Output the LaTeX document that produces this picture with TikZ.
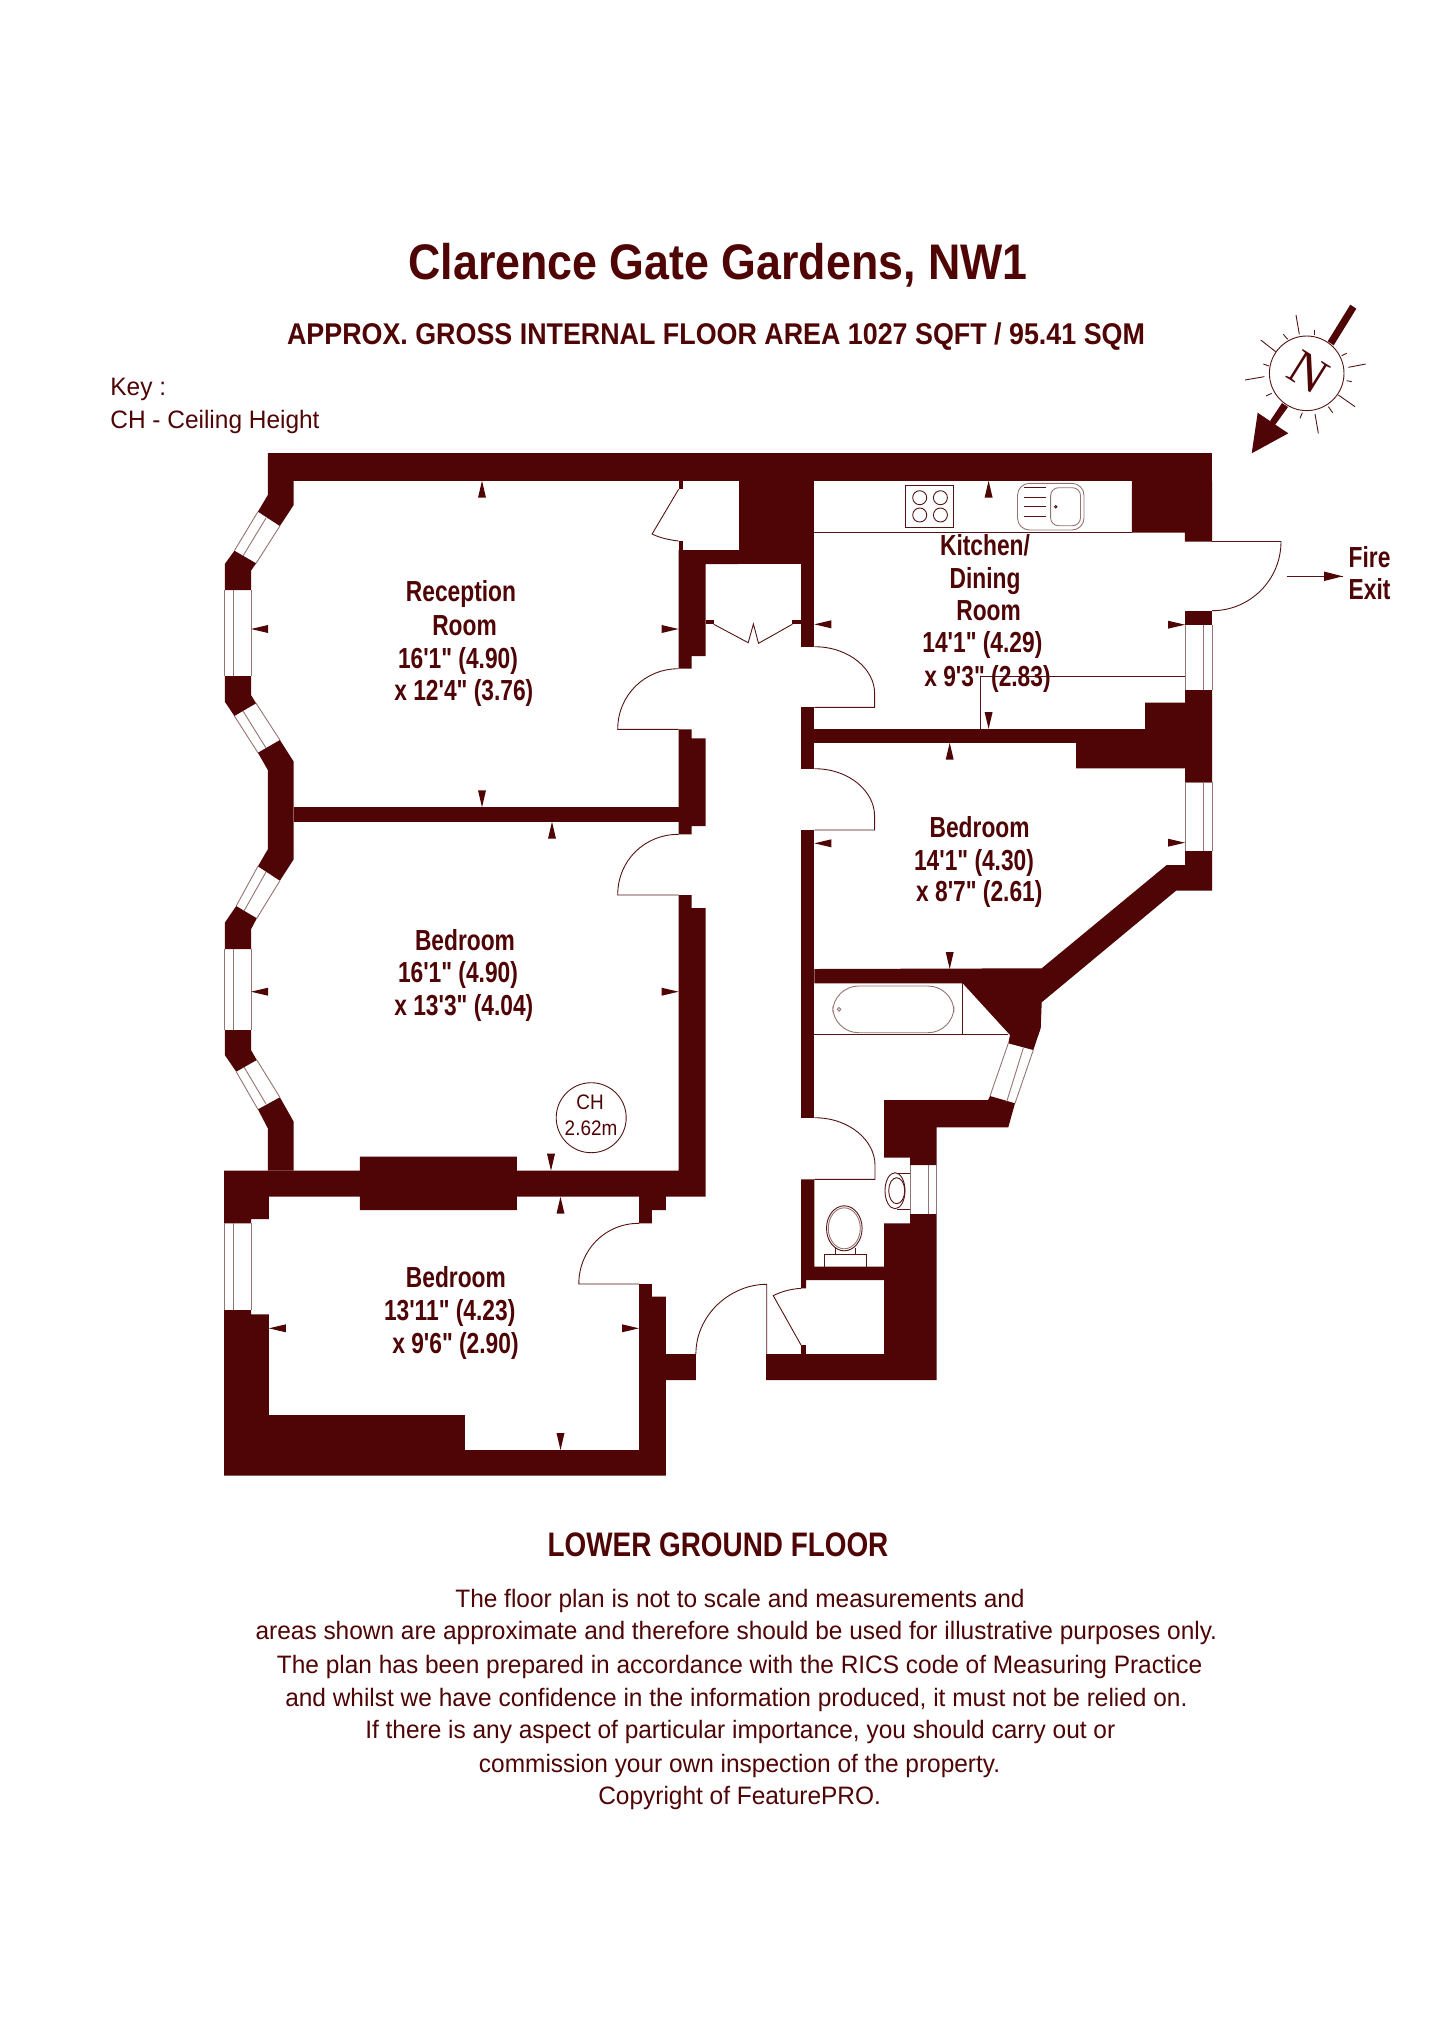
\documentclass[tikz,border=0pt]{standalone}
\usepackage{fontspec}
\newfontfamily\lblfont[FakeStretch=0.785]{Liberation Sans Bold}
\newfontfamily\titlefont[FakeStretch=0.895]{Liberation Sans Bold}
\newfontfamily\floorfont[FakeStretch=0.82]{Liberation Sans Bold}
\newfontfamily\regfont[FakeStretch=0.97]{Liberation Sans}
\newfontfamily\chfont[FakeStretch=0.9]{Liberation Sans}
\newfontfamily\nfont{Liberation Serif}
\definecolor{wallc}{RGB}{79,5,5}
\definecolor{linec}{RGB}{85,20,20}
\definecolor{lightc}{RGB}{150,115,115}
\tikzset{
  wall/.style={fill=wallc,draw=none},
  thinl/.style={draw=linec,line width=0.45pt},
  lightl/.style={draw=lightc,line width=0.45pt},
  roomtext/.style={text=wallc,inner sep=0pt,anchor=base,font=\lblfont\fontsize{14.5}{16}\selectfont},
  smalltext/.style={text=wallc,inner sep=0pt,anchor=base,font=\regfont\fontsize{12.6}{15}\selectfont},
}
\newcommand{\rl}[4]{\node[roomtext] (#1) at (#2,{#3+10}) {#4};}
\newcommand{\sml}[4]{\node[smalltext] (#1) at ({#2-2},{#3+2.5}) {#4};}
% arrows: tip x, tip y
\newcommand{\aup}[2]{\fill[wall] (#1,#2) -- ({#1-4},{#2+17}) -- ({#1+4},{#2+17}) -- cycle;}
\newcommand{\adn}[2]{\fill[wall] (#1,#2) -- ({#1-4},{#2-17}) -- ({#1+4},{#2-17}) -- cycle;}
\newcommand{\alf}[2]{\fill[wall] (#1,#2) -- ({#1+17},{#2-4}) -- ({#1+17},{#2+4}) -- cycle;}
\newcommand{\art}[2]{\fill[wall] (#1,#2) -- ({#1-17},{#2-4}) -- ({#1-17},{#2+4}) -- cycle;}
\begin{document}
\begin{tikzpicture}[x=0.5pt,y=-0.5pt]
\useasboundingbox (0,0) rectangle (1443,2025);
\fill[white] (0,0) rectangle (1443,2025);
% ---------- headings
\node[text=wallc,inner sep=0pt,font=\titlefont\fontsize{25}{28}\selectfont,anchor=base] (title) at (718,279.7) {Clarence Gate Gardens, NW1};
\node[text=wallc,inner sep=0pt,font=\titlefont\fontsize{15}{18}\selectfont,anchor=base] (sub) at (716,344.7) {APPROX. GROSS INTERNAL FLOOR AREA 1027 SQFT / 95.41 SQM};
\node[smalltext,anchor=base west] (key1) at (110,395.5) {Key :};
\node[smalltext,anchor=base west] (key2) at (110,428.5) {CH - Ceiling Height};
% ---------- walls: top and left
\fill[wall] (267.8,453.3) rectangle (1212,480.7);
\fill[wall] (267.8,453.3) -- (267.8,495) -- (257.9,511.7) -- (279.9,526) -- (293.7,505) -- (293.7,453.3) -- cycle;
\fill[wall] (234.4,550.7) -- (224.8,564) -- (224.8,590) -- (251,590) -- (251,570.7) -- (256.1,563.3) -- cycle;
\fill[wall] (224.8,676) -- (224.8,701.7) -- (234.4,716) -- (256.1,703.3) -- (251,695) -- (251,676) -- cycle;
\fill[wall] (257.9,752.7) -- (267.8,770) -- (267.8,849.3) -- (257.9,866.3) -- (279.9,880.7) -- (293.7,859.3) -- (293.7,761.7) -- (279.9,740) -- cycle;
\fill[wall] (236.2,906) -- (224.8,922.7) -- (224.8,949) -- (251,949) -- (251,929.3) -- (256.8,918.3) -- cycle;
\fill[wall] (224.8,1030) -- (224.8,1055) -- (236.2,1071.7) -- (256.8,1060) -- (251,1050) -- (251,1030) -- cycle;
\fill[wall] (257.9,1109.3) -- (267.8,1128.3) -- (267.8,1170.7) -- (293.7,1170.7) -- (293.7,1121.7) -- (279.9,1097.3) -- cycle;
\fill[wall] (293.7,807.3) rectangle (678.6,821.7);
% centre walls
\fill[wall] (678.6,480.7) rectangle (682.8,489.3);
\fill[wall] (678.6,541) rectangle (682.8,550);
\fill[wall] (678.6,550) -- (738.9,550) -- (738.9,564) -- (705.5,564) -- (705.5,656) -- (691.7,656) -- (691.7,668.7) -- (678.6,668.7) -- cycle;
\fill[wall] (705.5,620) rectangle (713.8,624.3);
\fill[wall] (678.6,729.3) -- (691.7,729.3) -- (691.7,738.3) -- (705.5,738.3) -- (705.5,826) -- (691.7,826) -- (691.7,834.3) -- (678.6,834.3) -- cycle;
\fill[wall] (678.6,895) -- (691.7,895) -- (691.7,908) -- (705.5,908) -- (705.5,1196.7) -- (665.9,1196.7) -- (665.9,1210) -- (651.8,1210) -- (651.8,1223.3) -- (639,1223.3) -- (639,1196.7) -- (516.8,1196.7) -- (516.8,1210) -- (359.8,1210) -- (359.8,1196.7) -- (268.9,1196.7) -- (268.9,1219) -- (251,1219) -- (251,1223.3) -- (224.1,1223.3) -- (224.1,1170.7) -- (359.8,1170.7) -- (359.8,1156.7) -- (516.8,1156.7) -- (516.8,1170.7) -- (678.6,1170.7) -- cycle;
\fill[wall] (224.1,1310) -- (251,1310) -- (251,1314.3) -- (268.9,1314.3) -- (268.9,1415) -- (464.8,1415) -- (464.8,1450) -- (639,1450) -- (639,1284) -- (651.8,1284) -- (651.8,1296.7) -- (665.9,1296.7) -- (665.9,1354) -- (695.9,1354) -- (695.9,1380) -- (665.9,1380) -- (665.9,1475.7) -- (224.1,1475.7) -- cycle;
% chimney and hall right wall
\fill[wall] (738.9,480.7) rectangle (814.3,564);
\fill[wall] (800.9,564) rectangle (814.3,646.7);
\fill[wall] (792.3,620) rectangle (800.9,624.3);
\fill[wall] (800.9,707.3) rectangle (814.3,768.7);
\fill[wall] (814.3,729) rectangle (1076,742.7);
\fill[wall] (1076,729) -- (1145,729) -- (1145,702.7) -- (1185,702.7) -- (1185,690) -- (1212,690) -- (1212,782) -- (1185,782) -- (1185,768.3) -- (1076,768.3) -- cycle;
\fill[wall] (1131.8,480.7) -- (1131.8,532.7) -- (1184.8,532.7) -- (1184.8,541.7) -- (1212,541.7) -- (1212,480.7) -- cycle;
\fill[wall] (1185,611) rectangle (1212,624.7);
\fill[wall] (1185,851) -- (1212,851) -- (1212,890.7) -- (1176,890.7) -- (1041.7,1002.3) -- (1040.7,1028.3) -- (1033.3,1050) -- (1008.3,1043.3) -- (1010,1035) -- (962.7,983.3) -- (814.3,983.3) -- (814.3,969) -- (1041.7,968.3) -- (1166.7,865) -- (1185,865) -- cycle;
\fill[wall] (801,830) rectangle (814.3,1117.7);
\fill[wall] (801,1179.3) -- (814.3,1179.3) -- (814.3,1266.7) -- (884,1266.7) -- (884,1223.3) -- (910,1223.3) -- (910,1214) -- (936.7,1214) -- (936.7,1380) -- (766,1380) -- (766,1354) -- (884,1354) -- (884,1280) -- (806,1280) -- (806,1288.3) -- (801,1288.3) -- cycle;
\fill[wall] (884,1100) -- (988,1100) -- (990,1096) -- (1015,1103.3) -- (1008.3,1127.3) -- (936.7,1127.3) -- (936.7,1165) -- (910,1165) -- (910,1157.7) -- (884,1157.7) -- cycle;
\fill[wall] (801,1345) rectangle (806,1354);
% ---------- windows
% reception bay
\draw[lightl] (234.4,550.7) -- (257.9,511.7) (256.1,563.3) -- (279.9,526) (243,556) -- (266,518);
\draw[lightl] (224.8,590) -- (224.8,676) (251,590) -- (251,676) (233.4,590) -- (233.4,676);
\draw[lightl] (234.4,716) -- (257.9,752.7) (256.1,703.3) -- (279.9,740) (243,711) -- (266,748);
% bedroom bay
\draw[lightl] (236.2,906) -- (257.9,866.3) (256.8,918.3) -- (279.9,880.7) (244,911) -- (266,872);
\draw[lightl] (224.8,949) -- (224.8,1030) (251,949) -- (251,1030) (233.4,949) -- (233.4,1030);
\draw[lightl] (236.2,1071.7) -- (257.9,1109.3) (256.8,1060) -- (279.9,1097.3) (244,1067) -- (266,1104);
% lower bedroom
\draw[lightl] (224.8,1223.3) -- (224.8,1310) (233.4,1223.3) -- (233.4,1310) (251,1223.3) -- (251,1310);
% right windows
\draw[lightl] (1185,624.7) -- (1185,690) (1212,624.7) -- (1212,690) (1203.3,624.7) -- (1203.3,690);
\draw[lightl] (1185,782) -- (1185,851) (1212,782) -- (1212,851) (1203.3,782) -- (1203.3,851) (1185,782) -- (1212,782);
% bathroom windows
\draw[lightl] (1008.3,1043.3) -- (990,1096) (1033.3,1050) -- (1015,1103.3) (1023.3,1048) -- (1006.7,1101.7);
\draw[lightl] (910,1165) -- (910,1214) (936.7,1165) -- (936.7,1214) (928.3,1165) -- (928.3,1214);
% ---------- doors
\draw[thinl] (678.6,489.3) -- (652.1,534) .. controls (660,538) and (670,540) .. (678.6,541);
\draw[thinl] (678.6,668.7) .. controls (645,668.7) and (617.7,695) .. (617.7,729.3) -- (678.6,729.3);
\draw[thinl] (678.6,834.3) .. controls (645,834.3) and (617.7,860) .. (617.7,895) -- (678.6,895);
\draw[thinl] (713.8,624.3) -- (748.2,642.7) -- (753.4,624) -- (758.5,643.3) -- (792.3,624.3);
\draw[thinl] (814.3,646.7) .. controls (850,646.7) and (874.6,670) .. (874.6,693) -- (874.6,707.3) -- (814.3,707.3);
\draw[thinl] (814.3,768.7) .. controls (850,768.7) and (874.6,792) .. (874.6,816) -- (874.6,830) -- (814.3,830);
\draw[thinl] (814.3,1117.7) .. controls (850,1117.7) and (875,1141) .. (875,1165) -- (875,1179.3) -- (814.3,1179.3);
\draw[thinl] (639,1223.3) .. controls (605,1223.3) and (578.8,1250) .. (578.8,1284) -- (639,1284);
\draw[thinl] (695.9,1354) .. controls (695.9,1315) and (730,1284.3) .. (766.7,1284.3) -- (766.7,1354);
\draw[thinl] (801,1288.3) .. controls (790,1289) and (780,1292) .. (773.3,1295.7) -- (801,1345);
\draw[thinl] (1212,541.5) -- (1281,541.5) .. controls (1281,580) and (1250,610.7) .. (1212,610.7);
% fire exit arrow
\coordinate (fa) at (1287.3,576.3);
\coordinate (fb) at (1342.7,576.3);
\draw[thinl] (fa) -- (fb);
\fill[wall] (1342.7,576.3) -- (1324,571.5) -- (1324,581) -- cycle;
% kitchen line, counter, hob, sink
\draw[thinl] (814.3,532.3) -- (1131.8,532.3);
\draw[thinl] (980.6,729) -- (980.6,676) -- (1184.8,676);
\draw[thinl] (905.6,485.7) rectangle (953.8,527.3);
\foreach \cx/\cy in {919.7/497.7,940.4/497.7,919.7/515,940.4/515}{\draw[thinl] (\cx,\cy) circle [radius=7];}
\draw[lightl,rounded corners=6] (1017.5,483.3) rectangle (1084,530);
\draw[lightl,rounded corners=4] (1050.6,487.7) rectangle (1080.5,525.7);
\foreach \ly in {487.7,497.3,506.7,516}{\draw[thinl] (1024.4,\ly) -- (1046,\ly);}
\draw[thinl] (1055.7,506.7) circle [radius=1.2];
% bath
\draw[thinl] (962.7,983.3) -- (962.7,1034) (814.3,1034) -- (1008,1034);
\draw[lightl,rounded corners=13] (832.7,986) rectangle (954,1032.7);
\draw[lightl] (839,1009.3) circle [radius=1.8];
% basin
\draw[thinl] (910,1173.3) -- (896.7,1173.3) (910,1209.3) -- (896.7,1209.3);
\draw[thinl] (895,1190.7) ellipse [x radius=10,y radius=18];
\draw[thinl] (896.7,1190.7) ellipse [x radius=8,y radius=13];
% toilet
\draw[thinl] (844.3,1228.3) ellipse [x radius=17.8,y radius=22.5];
\draw[lightl] (844.3,1228.3) ellipse [x radius=16,y radius=20.5];
\draw[thinl] (835.7,1248.3) -- (835.7,1254) (855,1248.3) -- (855,1254);
\draw[thinl] (824.3,1266.7) -- (824.3,1254) -- (866.7,1254) -- (866.7,1266.7);
% ---------- dimension arrowheads
\aup{482}{480.7} \adn{482}{807.3} \alf{251}{629} \art{678.6}{629}
\aup{552}{821.7} \adn{551}{1170.7} \alf{251}{991.7} \art{678.6}{991.7}
\aup{988.6}{480.7} \adn{988.6}{729} \alf{814.3}{624.3} \art{1185}{624.7}
\aup{949.7}{742.7} \adn{949.7}{969} \alf{814.3}{843.3} \art{1185}{842.7}
\aup{560.5}{1196.7} \adn{560.5}{1450} \alf{268.9}{1328.3} \art{639}{1328.3}
% ---------- room labels
\rl{a1}{461}{591.7}{Reception}
\rl{a2}{464.5}{625}{Room}
\rl{a3}{458}{658}{16'1" (4.90)}
\rl{a4}{463.8}{690}{x 12'4" (3.76)}
\rl{b1}{985}{545}{Kitchen/}
\rl{b2}{985}{578}{Dining}
\rl{b3}{988.6}{610.7}{Room}
\rl{b4}{982.4}{642.7}{14'1" (4.29)}
\rl{b5}{987.5}{676.7}{x 9'3" (2.83)}
\rl{c1}{979.6}{827}{Bedroom}
\rl{c2}{974}{860}{14'1" (4.30)}
\rl{c3}{979.3}{891.7}{x 8'7" (2.61)}
\rl{d1}{465}{940}{Bedroom}
\rl{d2}{458}{972.3}{16'1" (4.90)}
\rl{d3}{463.8}{1005.7}{x 13'3" (4.04)}
\rl{e1}{455.9}{1277.3}{Bedroom}
\rl{e2}{449.7}{1310}{13'11" (4.23)}
\rl{e3}{455.5}{1343.3}{x 9'6" (2.90)}
\node[roomtext,anchor=base west] (f1) at (1348.3,567.3) {Fire};
\node[roomtext,anchor=base west] (f2) at (1348.3,599.3) {Exit};
% ceiling height
\node[circle,draw=linec,line width=0.45pt,minimum size=35pt,inner sep=0pt] (chc) at (591.2,1117.7) {};
\node[text=wallc,inner sep=0pt,anchor=base,font=\chfont\fontsize{10.5}{12}\selectfont] (ch1) at (590,1109.5) {CH};
\node[text=wallc,inner sep=0pt,anchor=base,font=\chfont\fontsize{10.5}{12}\selectfont] (ch2) at (591,1135) {2.62m};
% ---------- footer
\node[text=wallc,inner sep=0pt,anchor=base,font=\floorfont\fontsize{17}{20}\selectfont] (fl) at (718,1556.5) {LOWER GROUND FLOOR};
\sml{l1}{742}{1605}{The floor plan is not to scale and measurements and}
\sml{l2}{738.4}{1637.4}{areas shown are approximate and therefore should be used for illustrative purposes only.}
\sml{l3}{741.6}{1671}{The plan has been prepared in accordance with the RICS code of Measuring Practice}
\sml{l4}{738.4}{1703.5}{and whilst we have confidence in the information produced, it must not be relied on.}
\sml{l5}{742.3}{1736}{If there is any aspect of particular importance, you should carry out or}
\sml{l6}{741.6}{1769.6}{commission your own inspection of the property.}
\sml{l7}{741.6}{1802}{Copyright of FeaturePRO.}
% ---------- compass
\draw[thinl] (1306.7,373.3) circle [radius=37.3];
\fill[wall] (1350.3,304.7) -- (1356.3,308.7) -- (1333.7,345.3) -- (1327.7,341.3) -- cycle;
\fill[wall] (1282,403) -- (1288,407) -- (1275,425) -- (1270,421) -- cycle;
\fill[wall] (1251.7,453.3) -- (1257.7,412.7) -- (1273.3,423.3) -- (1288.3,433.3) -- cycle;
\foreach \ax/\ay/\bx/\by in {228/75/238/133,122/150/167/185,75/270/133/260,295/430/285/372,405/350/355/315,437/222/385/232,283/120/283/135,190/133/203/148,130/222/147/228,138/318/155/310,240/385/247/368,338/368/325/350,395/275/380/272,380/190/365/197}{
  \draw[thinl] ({1220+\ax/3},{290+\ay/3}) -- ({1220+\bx/3},{290+\by/3});
}
\node[text=wallc,inner sep=0pt,rotate=-32,font=\nfont\fontsize{25}{28}\selectfont] (north) at (1308,372) {N};
\end{tikzpicture}
\end{document}
